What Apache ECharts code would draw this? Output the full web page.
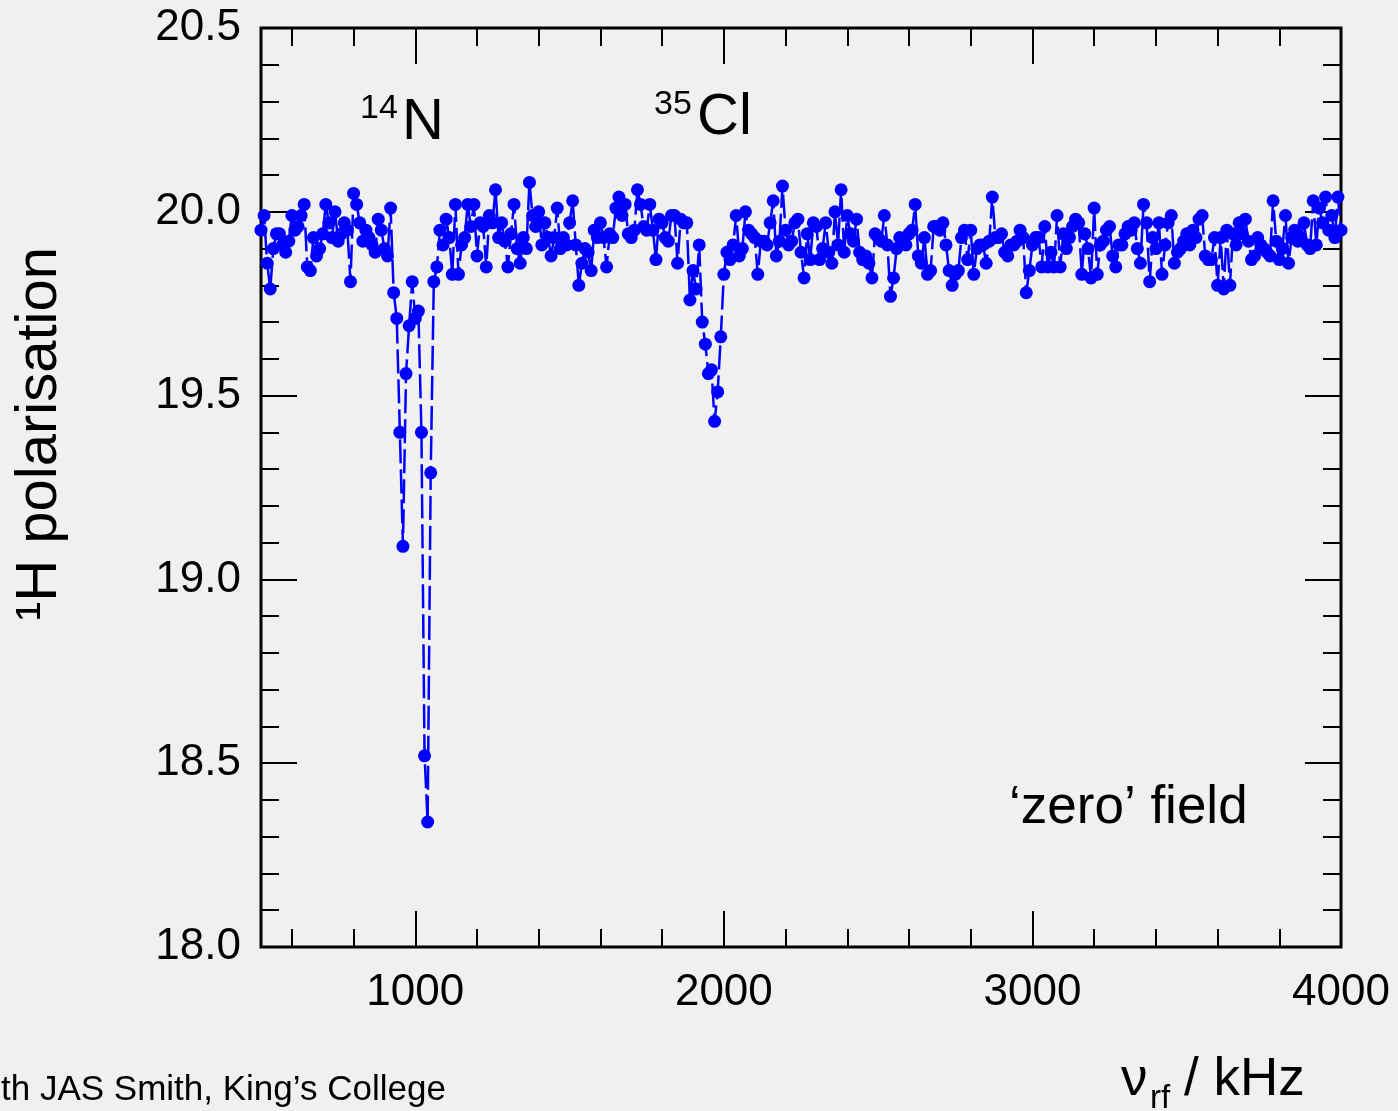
<!DOCTYPE html>
<html>
<head>
<meta charset="utf-8">
<script src="https://cdn.jsdelivr.net/npm/echarts@6/dist/echarts.min.js"></script>
<style>
html,body{margin:0;padding:0;background:#f0f0f0;}
#chart{width:1398px;height:1111px;}
</style>
</head>
<body>
<div id="chart"></div>
<script>
// rf frequency grid (kHz): 500 .. 4000 in 10 kHz steps
const freqStart = 500;
const freqStep = 10;
// 1H polarisation, one row per 100 kHz
const polarisation = [
  19.95, 19.99, 19.86, 19.79, 19.90, 19.94, 19.94, 19.91, 19.89, 19.92, // 500
  19.99, 19.95, 19.96, 19.99, 20.02, 19.85, 19.84, 19.93, 19.88, 19.90, // 600
  19.94, 20.02, 19.97, 19.93, 20.00, 19.92, 19.94, 19.97, 19.95, 19.81, // 700
  20.05, 20.02, 19.97, 19.92, 19.95, 19.93, 19.91, 19.89, 19.98, 19.95, // 800
  19.90, 19.88, 20.01, 19.78, 19.71, 19.40, 19.09, 19.56, 19.69, 19.81, // 900
  19.71, 19.73, 19.40, 18.52, 18.34, 19.29, 19.81, 19.85, 19.95, 19.91, // 1000
  19.98, 19.93, 19.83, 20.02, 19.83, 19.91, 19.93, 20.02, 19.96, 20.02, // 1100
  19.88, 19.97, 19.96, 19.85, 19.99, 19.97, 20.06, 19.93, 19.97, 19.92, // 1200
  19.85, 19.94, 20.02, 19.90, 19.86, 19.93, 19.90, 20.08, 19.99, 19.96, // 1300
  20.00, 19.91, 19.97, 19.93, 19.88, 19.93, 20.01, 19.90, 19.93, 19.91, // 1400
  19.97, 20.03, 19.91, 19.80, 19.86, 19.90, 19.89, 19.84, 19.95, 19.93, // 1500
  19.97, 19.93, 19.85, 19.94, 19.93, 20.01, 20.04, 19.99, 20.02, 19.94, // 1600
  19.93, 19.95, 20.06, 20.02, 19.96, 19.95, 20.02, 19.95, 19.87, 19.98, // 1700
  19.97, 19.93, 19.92, 19.99, 19.99, 19.86, 19.98, 19.97, 19.97, 19.76, // 1800
  19.84, 19.79, 19.91, 19.70, 19.64, 19.56, 19.57, 19.43, 19.51, 19.66, // 1900
  19.83, 19.89, 19.87, 19.91, 19.99, 19.88, 19.90, 20.00, 19.95, 19.94, // 2000
  19.93, 19.83, 19.92, 19.92, 19.91, 19.97, 20.03, 19.88, 19.92, 20.07, // 2100
  19.95, 19.91, 19.92, 19.97, 19.98, 19.89, 19.82, 19.94, 19.87, 19.97, // 2200
  19.96, 19.87, 19.90, 19.97, 19.89, 19.86, 20.00, 19.91, 20.06, 19.89, // 2300
  19.99, 19.94, 19.92, 19.98, 19.89, 19.87, 19.88, 19.86, 19.82, 19.94, // 2400
  19.93, 19.92, 19.99, 19.91, 19.77, 19.82, 19.90, 19.93, 19.92, 19.91, // 2500
  19.94, 19.95, 20.02, 19.88, 19.86, 19.93, 19.83, 19.84, 19.96, 19.96, // 2600
  19.95, 19.97, 19.91, 19.84, 19.80, 19.83, 19.84, 19.93, 19.95, 19.87, // 2700
  19.95, 19.83, 19.90, 19.91, 19.91, 19.86, 19.92, 20.04, 19.93, 19.93, // 2800
  19.94, 19.89, 19.88, 19.91, 19.91, 19.92, 19.95, 19.93, 19.78, 19.84, // 2900
  19.91, 19.93, 19.93, 19.85, 19.96, 19.85, 19.89, 19.85, 19.99, 19.85, // 3000
  19.94, 19.90, 19.93, 19.96, 19.98, 19.97, 19.83, 19.94, 19.90, 19.82, // 3100
  20.01, 19.83, 19.91, 19.92, 19.95, 19.96, 19.88, 19.85, 19.91, 19.91, // 3200
  19.94, 19.96, 19.95, 19.97, 19.90, 19.86, 20.02, 19.97, 19.81, 19.93, // 3300
  19.90, 19.97, 19.83, 19.91, 19.97, 19.99, 19.86, 19.89, 19.90, 19.92, // 3400
  19.94, 19.91, 19.95, 19.93, 19.98, 19.99, 19.88, 19.87, 19.87, 19.93, // 3500
  19.80, 19.93, 19.79, 19.95, 19.80, 19.94, 19.91, 19.97, 19.94, 19.98, // 3600
  19.92, 19.87, 19.88, 19.93, 19.91, 19.90, 19.89, 19.88, 20.03, 19.92, // 3700
  19.87, 19.90, 19.99, 19.86, 19.93, 19.95, 19.92, 19.93, 19.97, 19.91, // 3800
  19.90, 20.03, 19.91, 20.01, 19.97, 20.04, 19.95, 19.99, 19.93, 20.04, // 3900
  19.95                                                                  // 4000
];
// axis ticks
const xMajorTicks = [1000, 2000, 3000, 4000];
const xMinorTicks = [600, 800, 1200, 1400, 1600, 1800, 2200, 2400, 2600, 2800,
                     3200, 3400, 3600, 3800];
const yTickLabels = ['18.0', '18.5', '19.0', '19.5', '20.0', '20.5'];
// annotation texts
const peakLabels = [{sup: '14', main: 'N'}, {sup: '35', main: 'Cl'}];
const fieldLabel = '\u2018zero\u2019 field';
const yTitle = '\u00b9H polarisation';
const creditText = 'th JAS Smith, King\u2019s College';

const data = polarisation.map((v, i) => [freqStart + i * freqStep, v]);

const FONT = '"Liberation Sans", Arial, Helvetica, sans-serif';
const BLACK = '#000000';

function xAxisDef(pos, ticks, len, withLabel) {
  return {
    type: 'value', min: 500, max: 4000, position: pos,
    splitLine: {show: false},
    axisLine: {show: false, onZero: false},
    axisTick: {show: true, inside: true, length: len, customValues: ticks,
               lineStyle: {color: BLACK, width: 2}},
    axisLabel: withLabel ? {show: true, customValues: ticks, fontSize: 44,
               fontFamily: FONT, color: BLACK, margin: 24,
               formatter: v => String(v)} : {show: false}
  };
}
function yAxisDef(pos, withLabel) {
  return {
    type: 'value', min: 18, max: 20.5, interval: 0.5, position: pos,
    splitLine: {show: false},
    axisLine: {show: false, onZero: false},
    axisTick: {show: true, inside: true, length: 36, lineStyle: {color: BLACK, width: 2}},
    minorTick: {show: true, splitNumber: 5, length: 18, lineStyle: {color: BLACK, width: 2}},
    axisLabel: withLabel ? {show: true, fontSize: 44, fontFamily: FONT, color: BLACK,
               margin: 20, formatter: v => yTickLabels[Math.round((v - 18) / 0.5)]} : {show: false}
  };
}

const chart = echarts.init(document.getElementById('chart'), null, {renderer: 'canvas'});
chart.setOption({
  animation: false,
  backgroundColor: '#f0f0f0',
  grid: {left: 261, right: 57, top: 28, bottom: 164, show: true,
         borderColor: BLACK, borderWidth: 3, backgroundColor: 'transparent'},
  xAxis: [
    xAxisDef('bottom', xMajorTicks, 36, true),
    xAxisDef('bottom', xMinorTicks, 18, false),
    xAxisDef('top', xMajorTicks, 36, false),
    xAxisDef('top', xMinorTicks, 18, false)
  ],
  yAxis: [yAxisDef('left', true), yAxisDef('right', false)],
  series: [{
    type: 'line', xAxisIndex: 0, yAxisIndex: 0, data: data,
    symbol: 'circle', symbolSize: 13, showAllSymbol: true,
    itemStyle: {color: '#0000ff'},
    lineStyle: {color: '#0000ff', width: 2.5, type: [24, 6]},
    z: 3
  }],
  graphic: [
    {type: 'text', left: 360, top: 92, style: {text: peakLabels[0].sup, font: '34px ' + FONT, fill: BLACK}},
    {type: 'text', left: 402, top: 94, style: {text: peakLabels[0].main, font: '58px ' + FONT, fill: BLACK}},
    {type: 'text', left: 654, top: 88, style: {text: peakLabels[1].sup, font: '34px ' + FONT, fill: BLACK}},
    {type: 'text', left: 697, top: 89, style: {text: peakLabels[1].main, font: '58px ' + FONT, fill: BLACK}},
    {type: 'text', left: 1009, top: 782, style: {text: fieldLabel, font: '53px ' + FONT, fill: BLACK}},
    {type: 'text', x: 40, y: 434, rotation: Math.PI / 2,
     style: {text: yTitle, font: '58px ' + FONT, fill: BLACK, align: 'center', verticalAlign: 'middle'}},
    {type: 'text', left: 1121, top: 1054, style: {text: '\u03bd', font: '53px ' + FONT, fill: BLACK}},
    {type: 'text', left: 1150, top: 1082, style: {text: 'rf', font: '33px ' + FONT, fill: BLACK}},
    {type: 'text', left: 1184, top: 1054, style: {text: '/ kHz', font: '53px ' + FONT, fill: BLACK}},
    {type: 'text', left: 1, top: 1073, style: {text: creditText, font: '35px ' + FONT, fill: BLACK}}
  ]
});
</script>
</body>
</html>
